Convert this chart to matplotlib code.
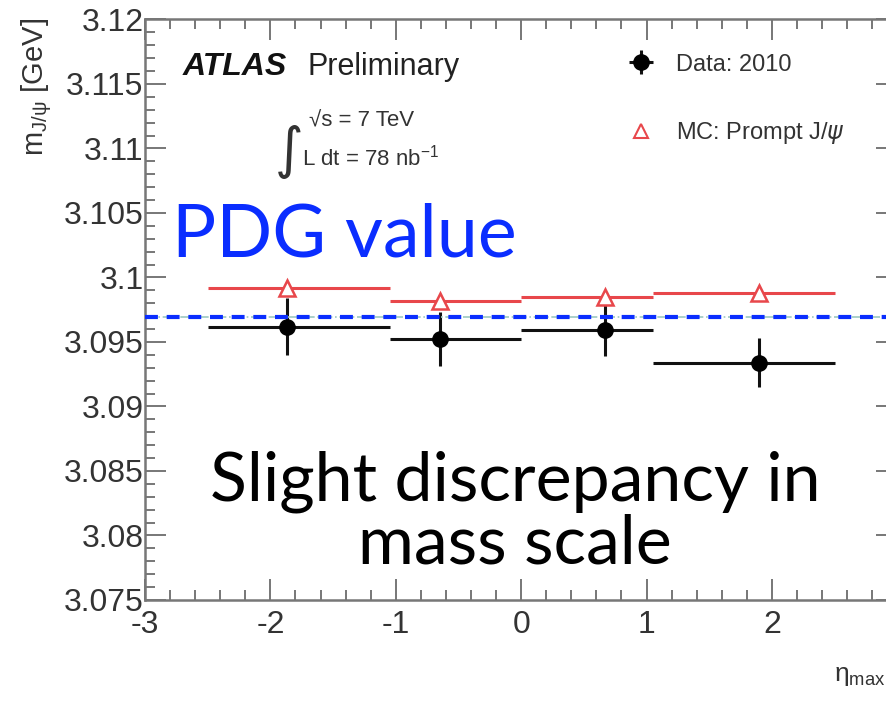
import matplotlib
matplotlib.use("Agg")
import matplotlib.pyplot as plt
from matplotlib.ticker import MultipleLocator, FuncFormatter
from matplotlib.lines import Line2D

# eta bins and J/psi mass per bin
bin_lo = [-2.5, -1.05, 0.0, 1.05]
bin_hi = [-1.05, 0.0, 1.05, 2.5]
eta = [-1.87, -0.65, 0.67, 1.90]
m_data = [3.0962, 3.0952, 3.0959, 3.0934]
m_data_err = [0.0022, 0.0021, 0.0020, 0.0019]
m_mc = [3.0992, 3.0982, 3.0985, 3.0988]
pdg_mass = 3.0969

plt.rcParams["axes.unicode_minus"] = False
ROOT_FONT = ["Liberation Sans", "DejaVu Sans"]
TALK_FONT = ["Lato", "DejaVu Sans"]
GREY = "#777777"

fig = plt.figure(figsize=(8.86, 7.01), dpi=100)
ax = fig.add_axes([0.1637, 0.1441, 0.849, 0.8281])

xl = [e - lo for e, lo in zip(eta, bin_lo)]
xr = [hi - e for e, hi in zip(eta, bin_hi)]

data = ax.errorbar(eta, m_data, yerr=m_data_err, xerr=[xl, xr], fmt="o", color="black",
                   ecolor="#111111", elinewidth=2.2, ms=11, capsize=0, zorder=3)
ax.errorbar(eta, m_mc, xerr=[xl, xr], fmt="none", ecolor="#e8474b", elinewidth=2.2,
            capsize=0, zorder=4)
ax.plot(eta, m_mc, "^", ms=12, mfc="white", mec="#e8474b", mew=1.8, zorder=5)

ax.axhline(pdg_mass, color="#9cc8c0", lw=1.2, ls="-.", zorder=5)
ax.axhline(pdg_mass, color="#0a2dff", lw=3.0, ls=(0, (3.1, 2.1)), zorder=6)

ax.set_xlim(-3, 3)
ax.set_ylim(3.075, 3.12)
ax.xaxis.set_major_locator(MultipleLocator(1))
ax.xaxis.set_minor_locator(MultipleLocator(0.2))
ax.yaxis.set_major_locator(MultipleLocator(0.005))
ax.yaxis.set_minor_locator(MultipleLocator(0.001))
ax.yaxis.set_major_formatter(FuncFormatter(lambda v, p: f"{v:g}"))
ax.xaxis.set_major_formatter(FuncFormatter(lambda v, p: f"{v:g}"))
ax.tick_params(which="both", direction="in", top=True, right=True, color=GREY, width=1.4,
               labelsize=23, labelcolor="#333333")
ax.tick_params(which="major", length=15)
ax.tick_params(which="minor", length=7.5)
ax.tick_params(axis="x", pad=7)
ax.tick_params(axis="y", pad=1)
for lab in ax.get_xticklabels() + ax.get_yticklabels():
    lab.set_family(ROOT_FONT)
for s in ax.spines.values():
    s.set_color(GREY)
    s.set_linewidth(1.8)

# legend
mc_handle = Line2D([], [], ls="none", marker="^", ms=10, mfc="white", mec="#e8474b", mew=1.5)
ax.legend([data, mc_handle], ["Data: 2010", r"MC: Prompt J/$\psi$"], loc="upper left",
          bbox_to_anchor=(0.606, 0.978), frameon=False, handlelength=1.6, labelspacing=1.9,
          handletextpad=0.7, prop={"family": ROOT_FONT, "size": 17}, labelcolor="#333333")

# ATLAS label
fig.text(183 / 886, 1 - 67 / 701, "ATLAS", fontsize=23, fontweight="bold", style="italic",
         family=ROOT_FONT, va="center", color="#111111")
fig.text(307 / 886, 1 - 67 / 701, "Preliminary", fontsize=22, family=ROOT_FONT,
         va="center", color="#222222")
fig.text(274 / 886, 1 - 152 / 701, r"$\int$", fontsize=28, va="center", color="#333333")
fig.text(309 / 886, 1 - 121 / 701, "\u221as = 7 TeV", fontsize=16, family=ROOT_FONT,
         va="center", color="#333333")
fig.text(302 / 886, 1 - 158 / 701, r"L dt = 78 nb$^{\mathregular{-1}}$", fontsize=16,
         family=ROOT_FONT, va="center", color="#333333")

# axis titles
fig.text(0.041, 0.975, r"m$_{\mathregular{J/\psi}}$ [GeV]", rotation=90, ha="center", va="top",
         fontsize=21, family=ROOT_FONT, color="#333333")
fig.text(834 / 886, 1 - 676 / 701, r"$\mathregular{\eta_{max}}$", fontsize=19,
         family=ROOT_FONT, va="center", color="#333333")

# talk annotations
fig.text(172 / 886, 1 - 236 / 701, "PDG value", fontsize=53, family=TALK_FONT,
         color="#0a2dff", va="center")
fig.text(515 / 886, 1 - 513 / 701, "Slight discrepancy in\nmass scale", fontsize=49,
         family=TALK_FONT, color="black", ha="center", va="center", linespacing=1.0)

fig.savefig("out.png", dpi=100)
